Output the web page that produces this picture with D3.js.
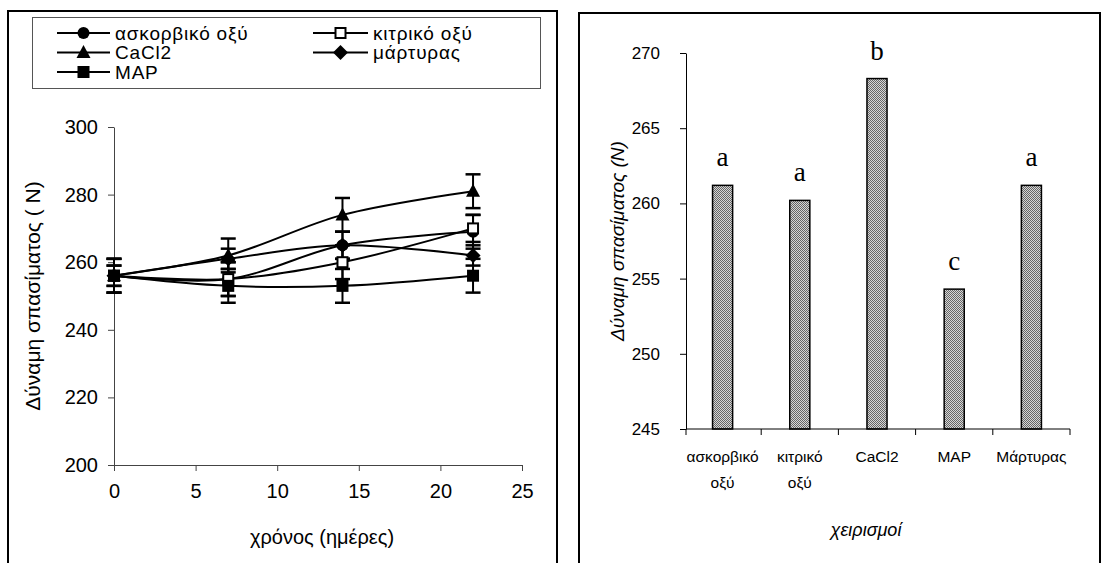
<!DOCTYPE html>
<html><head><meta charset="utf-8">
<script src="https://cdn.jsdelivr.net/npm/d3@7"></script>
<style>body{margin:0;background:#fff}svg{display:block}</style>
</head><body>
<svg id="c" width="1104" height="563"></svg>
<script>
// ---------- data: left line chart ----------
const days = [0, 7, 14, 22];
const seriesNames = ["ασκορβικό οξύ", "κιτρικό οξύ", "CaCl2", "μάρτυρας", "MAP"];
const ascorbicVals = [256, 255, 265, 269];
const citricVals   = [256, 255, 260, 270];
const cacl2Vals    = [256, 262, 274, 281];
const controlVals  = [256, 261, 265, 262];
const mapVals      = [256, 253, 253, 256];
const ascorbicErr = [3, 5, 4, 5];
const citricErr   = [5, 5, 5, 4];
const cacl2Err    = [5, 5, 5, 5];
const controlErr  = [3, 3, 4, 3];
const mapErr      = [5, 5, 5, 5];
const lineXTicks = [0, 5, 10, 15, 20, 25];
const lineYTicks = [200, 220, 240, 260, 280, 300];

// ---------- data: right bar chart ----------
const treatments = [["ασκορβικό", "οξύ"], ["κιτρικό", "οξύ"], ["CaCl2"], ["MAP"], ["Μάρτυρας"]];
const barVals = [261.2, 260.2, 268.3, 254.3, 261.2];
const barLetters = ["a", "a", "b", "c", "a"];
const barYTicks = [245, 250, 255, 260, 265, 270];

const svg = d3.select("#c");
const SANS = "'Liberation Sans', Arial, sans-serif";

// panel borders
svg.append("rect").attr("x", 8).attr("y", 11).attr("width", 549).attr("height", 570)
  .attr("fill", "none").attr("stroke", "#000").attr("stroke-width", 2);
svg.append("rect").attr("x", 579).attr("y", 13).attr("width", 521).attr("height", 570)
  .attr("fill", "none").attr("stroke", "#000").attr("stroke-width", 2);

// ================= LEFT =================
const xL = d3.scaleLinear().domain([0, 25]).range([114, 522]);
const yL = d3.scaleLinear().domain([200, 300]).range([465, 127]);
const gL = svg.append("g");

const axXL = gL.append("g").attr("transform", `translate(0,${yL(200)})`)
  .call(d3.axisBottom(xL).tickValues(lineXTicks).tickSize(6).tickSizeOuter(0).tickPadding(10));
const axYL = gL.append("g").attr("transform", `translate(${xL(0)},0)`)
  .call(d3.axisLeft(yL).tickValues(lineYTicks).tickSize(6).tickSizeOuter(0).tickPadding(10));
[axXL, axYL].forEach(a => {
  a.selectAll("path,line").attr("stroke", "#444").attr("stroke-width", 1);
  a.selectAll("text").attr("font-family", SANS).attr("font-size", 20).attr("fill", "#000");
});
axXL.selectAll("text").attr("dy", "0.85em");

gL.append("text").attr("x", 322).attr("y", 544).attr("text-anchor", "middle")
  .attr("font-family", SANS).attr("font-size", 20).text("χρόνος (ημέρες)");
gL.append("text").attr("transform", `translate(40,${(yL(200) + yL(300)) / 2}) rotate(-90)`)
  .attr("text-anchor", "middle").attr("font-family", SANS).attr("font-size", 21)
  .text("Δύναμη σπασίματος ( N)");

const series = [
  { name: seriesNames[0], vals: ascorbicVals, err: ascorbicErr, shape: "circle" },
  { name: seriesNames[1], vals: citricVals, err: citricErr, shape: "opensquare" },
  { name: seriesNames[2], vals: cacl2Vals, err: cacl2Err, shape: "triangle" },
  { name: seriesNames[3], vals: controlVals, err: controlErr, shape: "diamond" },
  { name: seriesNames[4], vals: mapVals, err: mapErr, shape: "square" }
];

const line = d3.line().x(d => xL(d[0])).y(d => yL(d[1])).curve(d3.curveCatmullRom.alpha(0.5));
series.forEach(s => {
  gL.append("path").datum(days.map((d, i) => [d, s.vals[i]]))
    .attr("d", line).attr("fill", "none").attr("stroke", "#000").attr("stroke-width", 2);
});
// error bars
series.forEach(s => {
  days.forEach((d, i) => {
    const x = xL(d), y1 = yL(s.vals[i] - s.err[i]), y2 = yL(s.vals[i] + s.err[i]);
    gL.append("line").attr("x1", x).attr("x2", x).attr("y1", y1).attr("y2", y2)
      .attr("stroke", "#000").attr("stroke-width", 2);
    [y1, y2].forEach(yy => gL.append("line").attr("x1", x - 7.5).attr("x2", x + 7.5)
      .attr("y1", yy).attr("y2", yy).attr("stroke", "#000").attr("stroke-width", 2.5));
  });
});

function marker(g, shape, x, y) {
  if (shape === "circle") g.append("circle").attr("cx", x).attr("cy", y).attr("r", 6).attr("fill", "#000");
  else if (shape === "square") g.append("rect").attr("x", x - 6).attr("y", y - 6).attr("width", 12).attr("height", 12).attr("fill", "#000");
  else if (shape === "opensquare") g.append("rect").attr("x", x - 5).attr("y", y - 5).attr("width", 10).attr("height", 10)
    .attr("fill", "#fff").attr("stroke", "#000").attr("stroke-width", 2);
  else if (shape === "triangle") g.append("path").attr("d", `M${x},${y - 7.5}L${x + 7},${y + 5.5}L${x - 7},${y + 5.5}Z`).attr("fill", "#000");
  else if (shape === "diamond") g.append("path").attr("d", `M${x},${y - 7.5}L${x + 7.5},${y}L${x},${y + 7.5}L${x - 7.5},${y}Z`).attr("fill", "#000");
}
series.forEach(s => days.forEach((d, i) => marker(gL, s.shape, xL(d), yL(s.vals[i]))));

// legend
const lg = gL.append("g");
lg.append("rect").attr("x", 32.5).attr("y", 17.5).attr("width", 508).attr("height", 71)
  .attr("fill", "#fff").attr("stroke", "#555").attr("stroke-width", 1);
const legendOrder = [0, 2, 4, 1, 3];
legendOrder.forEach((si, k) => {
  const col = k < 3 ? 0 : 1, row = k < 3 ? k : k - 3;
  const x0 = col === 0 ? 57 : 313, x1 = col === 0 ? 110 : 368, xm = (x0 + x1) / 2;
  const y = 33 + row * 19.5;
  lg.append("line").attr("x1", x0).attr("x2", x1).attr("y1", y).attr("y2", y).attr("stroke", "#000").attr("stroke-width", 2);
  marker(lg, series[si].shape, xm, y);
  lg.append("text").attr("x", x1 + 5).attr("y", y).attr("dy", "0.36em")
    .attr("font-family", SANS).attr("font-size", 19).attr("letter-spacing", 0.8).text(series[si].name);
});

// ================= RIGHT =================
const xR = d3.scaleBand().domain(d3.range(treatments.length)).range([684, 1070]).paddingInner(0.74).paddingOuter(0.37);
const xRaxis = d3.scaleBand().domain(d3.range(treatments.length)).range([684, 1070]);
const yR = d3.scaleLinear().domain([245, 270]).range([429, 53]);
const gR = svg.append("g");

const pat = svg.append("defs").append("pattern").attr("id", "dots")
  .attr("patternUnits", "userSpaceOnUse").attr("width", 2).attr("height", 2);
pat.append("rect").attr("width", 2).attr("height", 2).attr("fill", "#d6d6d6");
pat.append("rect").attr("x", 0).attr("y", 0).attr("width", 1).attr("height", 1).attr("fill", "#666");
pat.append("rect").attr("x", 1).attr("y", 1).attr("width", 1).attr("height", 1).attr("fill", "#666");

gR.selectAll("rect.bar").data(barVals).join("rect").attr("class", "bar")
  .attr("x", (d, i) => xR(i)).attr("width", xR.bandwidth())
  .attr("y", d => yR(d)).attr("height", d => yR(245) - yR(d))
  .attr("fill", "url(#dots)").attr("stroke", "#000").attr("stroke-width", 1.5);

gR.selectAll("text.let").data(barVals).join("text").attr("class", "let")
  .attr("x", (d, i) => xR(i) + xR.bandwidth() / 2).attr("y", d => yR(d) - 19)
  .attr("text-anchor", "middle").attr("font-family", "'Liberation Serif', 'Times New Roman', serif")
  .attr("font-size", 27).text((d, i) => barLetters[i]);

const axYR = gR.append("g").attr("transform", `translate(686,0)`)
  .call(d3.axisLeft(yR).tickValues(barYTicks).tickSize(6).tickSizeOuter(0).tickPadding(20));
axYR.selectAll("path,line").attr("stroke", "#000").attr("stroke-width", 1);
axYR.selectAll("text").attr("font-family", SANS).attr("font-size", 17).attr("fill", "#000");

const axXR = gR.append("g").attr("transform", `translate(0,${yR(245)})`)
  .call(d3.axisBottom(xRaxis).tickSize(0).tickFormat(""));
axXR.select("path").attr("stroke", "#000").attr("stroke-width", 1).attr("d", `M686,0H1070`);
const boundaries = d3.range(treatments.length + 1).map(i => i < treatments.length ? xRaxis(i) : xRaxis.range()[1]);
boundaries.forEach((bx, i) => {
  const xx = i === 0 ? 686 : bx;
  gR.append("line").attr("x1", xx).attr("x2", xx).attr("y1", yR(245)).attr("y2", yR(245) + 6)
    .attr("stroke", "#000").attr("stroke-width", 1);
});
treatments.forEach((lines, i) => {
  const t = gR.append("text").attr("x", xR(i) + xR.bandwidth() / 2).attr("y", 462)
    .attr("text-anchor", "middle").attr("font-family", SANS).attr("font-size", 15.5);
  lines.forEach((l, j) => t.append("tspan").attr("x", xR(i) + xR.bandwidth() / 2).attr("dy", j === 0 ? 0 : 26).text(l));
});
gR.append("text").attr("x", 866).attr("y", 536).attr("text-anchor", "middle")
  .attr("font-family", SANS).attr("font-style", "italic").attr("font-size", 18).text("χειρισμοί");
gR.append("text").attr("transform", `translate(624,${(yR(245) + yR(270)) / 2}) rotate(-90)`)
  .attr("text-anchor", "middle").attr("font-family", SANS).attr("font-style", "italic").attr("font-size", 19)
  .text("Δύναμη σπασίματος (N)");
</script>
</body></html>
